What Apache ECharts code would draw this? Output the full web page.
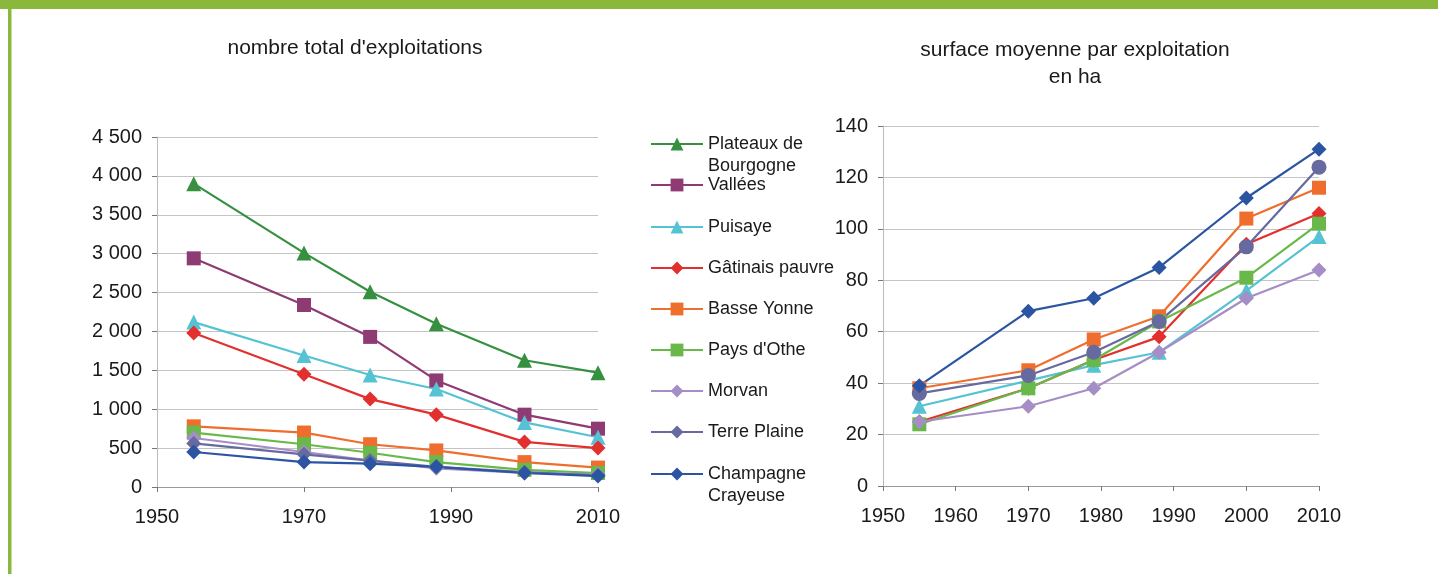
<!DOCTYPE html>
<html>

<head>
    <meta charset="utf-8">
    <title>Exploitations</title>
    <script type="text/javascript" src="https://cdn.jsdelivr.net/npm/echarts@6/dist/echarts.min.js"></script>
</head>

<body style="margin:0; background:#fff;">
    <div id="main" style="width:1438px; height:574px;"></div>
    <script type="text/javascript">
    // années de recensement
    var years = [1955, 1970, 1979, 1988, 2000, 2010];

    // nombre total d'exploitations
    var nbPlateaux = [3900, 3010, 2510, 2100, 1630, 1470];
    var nbVallees = [2940, 2340, 1930, 1370, 930, 750];
    var nbPuisaye = [2120, 1690, 1440, 1260, 830, 640];
    var nbGatinais = [1980, 1450, 1130, 930, 580, 500];
    var nbBasseYonne = [780, 700, 550, 470, 320, 250];
    var nbPaysOthe = [700, 550, 440, 320, 220, 180];
    var nbMorvan = [630, 450, 340, 240, 180, 160];
    var nbTerrePlaine = [560, 420, 340, 260, 190, 150];
    var nbChampagne = [450, 320, 300, 260, 180, 140];

    // surface moyenne par exploitation (ha)
    var surfPuisaye = [31, 41, 47, 52, 76, 97];
    var surfGatinais = [25, 38, 49, 58, 94, 106];
    var surfBasseYonne = [38, 45, 57, 66, 104, 116];
    var surfPaysOthe = [24, 38, 49, 64, 81, 102];
    var surfMorvan = [25, 31, 38, 52, 73, 84];
    var surfTerrePlaine = [36, 43, 52, 64, 93, 124];
    var surfChampagne = [39, 68, 73, 85, 112, 131];

    var names = ['Plateaux de Bourgogne', 'Vallées', 'Puisaye', 'Gâtinais pauvre', 'Basse Yonne',
        "Pays d'Othe", 'Morvan', 'Terre Plaine', 'Champagne Crayeuse'];
    var colors = ['#35903f', '#8e3a73', '#55c3d3', '#e2302e', '#ef6e2e', '#69b94a', '#a58dc6', '#666a9e', '#2b54a3'];
    var symbols = ['triangle', 'rect', 'triangle', 'diamond', 'rect', 'rect', 'diamond', 'diamond', 'diamond'];

    var FONT = 'Liberation Sans, Arial, sans-serif';
    var TXT = '#1a1a1a';

    function pairs(vals) {
        return years.map(function(y, i) { return [y, vals[i]]; });
    }

    function thousands(v) {
        if (v < 1000) return String(v);
        var r = String(v % 1000);
        while (r.length < 3) r = '0' + r;
        return Math.floor(v / 1000) + ' ' + r;
    }

    var myChart = echarts.init(document.getElementById('main'));

    var leftData = [nbPlateaux, nbVallees, nbPuisaye, nbGatinais, nbBasseYonne, nbPaysOthe, nbMorvan, nbTerrePlaine, nbChampagne];
    var series = [];
    leftData.forEach(function(vals, i) {
        series.push({
            name: names[i],
            type: 'line',
            xAxisIndex: 0,
            yAxisIndex: 0,
            data: pairs(vals),
            symbol: symbols[i],
            symbolSize: symbols[i] === 'rect' ? 14 : 15,
            lineStyle: { width: 2.2, color: colors[i] },
            itemStyle: { color: colors[i] }
        });
    });

    // graphique de droite (7 petites régions)
    var rightData = [
        [2, surfPuisaye, 'triangle'],
        [3, surfGatinais, 'diamond'],
        [4, surfBasseYonne, 'rect'],
        [5, surfPaysOthe, 'rect'],
        [6, surfMorvan, 'diamond'],
        [7, surfTerrePlaine, 'circle'],
        [8, surfChampagne, 'diamond']
    ];
    rightData.forEach(function(r) {
        var i = r[0];
        series.push({
            name: names[i],
            type: 'line',
            xAxisIndex: 1,
            yAxisIndex: 1,
            data: pairs(r[1]),
            symbol: r[2],
            symbolSize: r[2] === 'rect' ? 14 : 15,
            lineStyle: { width: 2.2, color: colors[i] },
            itemStyle: { color: colors[i] }
        });
    });

    // une légende par entrée, pour placer le symbole sur la première ligne
    var legendCenters = [144, 185, 227, 268, 309, 350, 391, 432, 474];
    var legends = names.map(function(n, i) {
        var multi = n === 'Plateaux de Bourgogne' || n === 'Champagne Crayeuse';
        return {
            data: [n],
            left: 650,
            top: legendCenters[i] - (multi ? 33 : 11),
            padding: 0,
            itemWidth: 52,
            itemHeight: 16,
            selectedMode: false,
            formatter: function(name) {
                if (name === 'Plateaux de Bourgogne') return '\nPlateaux de\nBourgogne';
                if (name === 'Champagne Crayeuse') return '\nChampagne\nCrayeuse';
                return name;
            },
            textStyle: { fontSize: 18, color: TXT, fontFamily: FONT, lineHeight: 22 }
        };
    });

    var axisLabel = { fontSize: 20, color: TXT, fontFamily: FONT };

    option = {
        animation: false,
        backgroundColor: '#fff',
        title: [{
            text: "nombre total d'exploitations",
            left: 355,
            top: 38,
            padding: 0,
            textAlign: 'center',
            textStyle: { fontSize: 21, fontWeight: 'normal', color: TXT, fontFamily: FONT }
        }, {
            text: 'surface moyenne par exploitation\nen ha',
            left: 1075,
            top: 37,
            padding: 0,
            textAlign: 'center',
            textStyle: { fontSize: 21, fontWeight: 'normal', color: TXT, fontFamily: FONT, lineHeight: 27 }
        }],
        legend: legends,
        graphic: [
            { type: 'rect', shape: { x: 0, y: 0, width: 1438, height: 9 }, style: { fill: '#8ab83c' } },
            { type: 'rect', shape: { x: 8, y: 0, width: 3.5, height: 574 }, style: { fill: '#8ab83c' } }
        ],
        grid: [
            { left: 157, right: 840, top: 137, bottom: 87 },
            { left: 883, right: 119, top: 126, bottom: 88 }
        ],
        xAxis: [{
            gridIndex: 0,
            type: 'value',
            min: 1950,
            max: 2010,
            interval: 20,
            splitLine: { show: false },
            axisLine: { lineStyle: { color: '#999' } },
            axisTick: { length: 5, lineStyle: { color: '#777' } },
            axisLabel: Object.assign({ margin: 20, formatter: String }, axisLabel)
        }, {
            gridIndex: 1,
            type: 'value',
            min: 1950,
            max: 2010,
            interval: 10,
            splitLine: { show: false },
            axisLine: { lineStyle: { color: '#999' } },
            axisTick: { length: 5, lineStyle: { color: '#777' } },
            axisLabel: Object.assign({ margin: 20, formatter: String }, axisLabel)
        }],
        yAxis: [{
            gridIndex: 0,
            type: 'value',
            min: 0,
            max: 4500,
            interval: 500,
            axisLine: { show: true, lineStyle: { color: '#bbb' } },
            axisTick: { show: true, length: 5, lineStyle: { color: '#777' } },
            splitLine: { lineStyle: { color: '#c4c4c4' } },
            axisLabel: Object.assign({ margin: 15, formatter: thousands }, axisLabel)
        }, {
            gridIndex: 1,
            type: 'value',
            min: 0,
            max: 140,
            interval: 20,
            axisLine: { show: true, lineStyle: { color: '#bbb' } },
            axisTick: { show: true, length: 5, lineStyle: { color: '#777' } },
            splitLine: { lineStyle: { color: '#c4c4c4' } },
            axisLabel: Object.assign({ margin: 15 }, axisLabel)
        }],
        series: series
    };

    myChart.setOption(option);
    </script>
</body>

</html>
